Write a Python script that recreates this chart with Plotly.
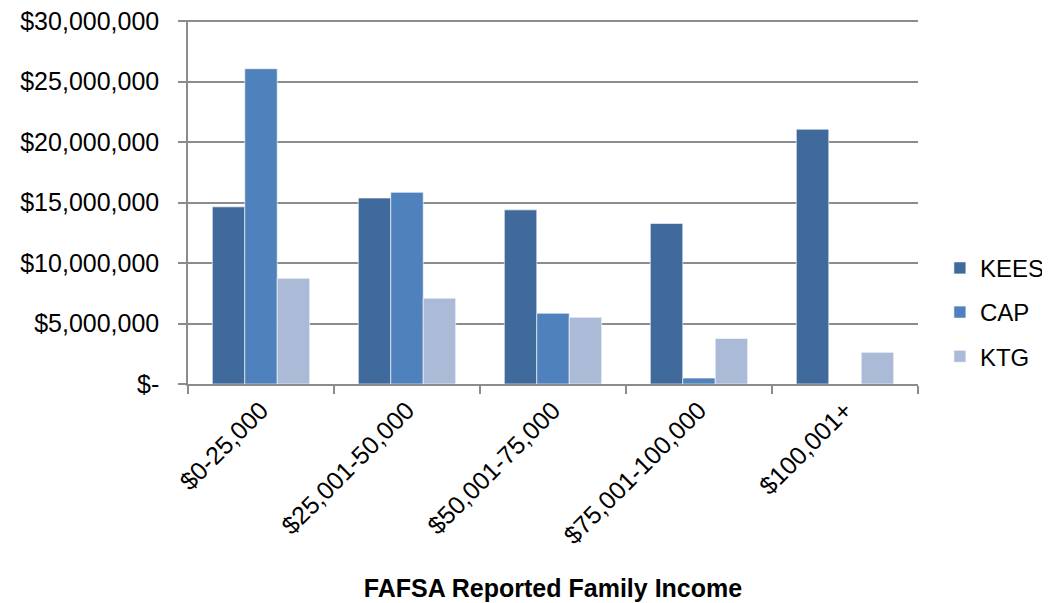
import plotly.graph_objects as go

categories = ["$0-25,000", "$25,001-50,000", "$50,001-75,000", "$75,001-100,000", "$100,001+"]
kees = [14650000, 15380000, 14400000, 13280000, 21070000]
cap = [26070000, 15850000, 5850000, 490000, 0]
ktg = [8740000, 7100000, 5520000, 3770000, 2620000]

y_tickvals = [0, 5000000, 10000000, 15000000, 20000000, 25000000, 30000000]
y_ticktext = ["$-", "$5,000,000", "$10,000,000", "$15,000,000", "$20,000,000", "$25,000,000", "$30,000,000"]

series = [("KEES", kees, "#416A9C"), ("CAP", cap, "#4F81BD"), ("KTG", ktg, "#AABAD7")]

fig = go.Figure()
for name, vals, color in series:
    fig.add_trace(go.Bar(
        x=categories, y=vals, name=name, legendgroup=name,
        marker=dict(color=color, line=dict(color="rgba(255,255,255,0.6)", width=1)),
    ))

font_family = "Liberation Sans, Arial, sans-serif"
fig.update_layout(
    width=1050, height=603,
    margin=dict(l=180, r=140, t=12, b=227, autoexpand=False),
    paper_bgcolor="white", plot_bgcolor="white",
    barmode="group", bargap=0.333, bargroupgap=0,
    font=dict(family=font_family, size=25, color="black"),
    showlegend=True,
    legend=dict(x=1.03, y=0.197, xanchor="left", yanchor="middle",
                font=dict(size=24), tracegroupgap=10, itemwidth=30),
    xaxis=dict(
        automargin=False,
        showline=True, linecolor="#8C8C8C", linewidth=1.5,
        ticks="outside", tickson="boundaries", ticklen=8, tickcolor="#8C8C8C", tickwidth=1.5,
        tickangle=-45, tickfont=dict(size=25),
        title=dict(text="<b>FAFSA Reported Family Income</b>", font=dict(size=25), standoff=31),
    ),
    yaxis=dict(
        automargin=False,
        range=[0, 30100000], tickvals=y_tickvals, ticktext=y_ticktext,
        showgrid=True, gridcolor="#8C8C8C", gridwidth=1.5,
        showline=True, linecolor="#8C8C8C", linewidth=1.5,
        ticks="outside", ticklen=8, tickcolor="#8C8C8C", tickwidth=1.5,
        ticklabelstandoff=14, ticklabeloverflow="allow",
        tickfont=dict(size=25), zeroline=False,
    ),
)

fig.write_html("out.html")
